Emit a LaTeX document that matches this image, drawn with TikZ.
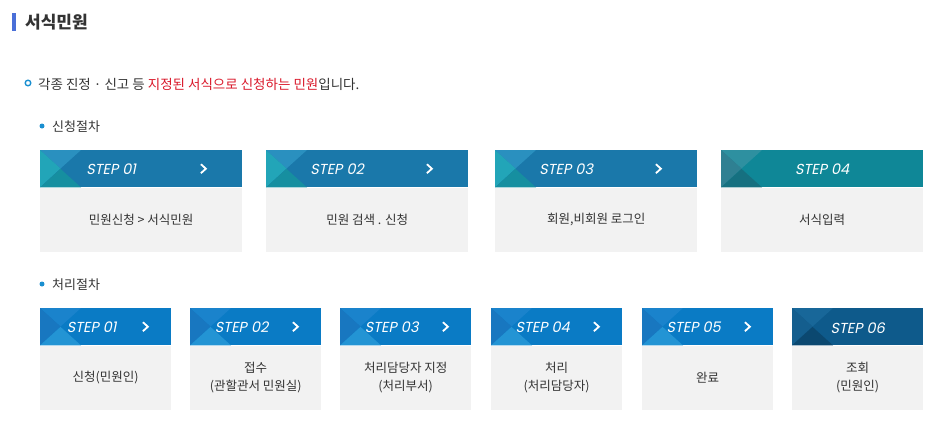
\documentclass[tikz,border=0pt]{standalone}
\usepackage{fontspec}
\setmainfont{Noto Sans CJK KR}
\newfontfamily\stepfont[FakeSlant=0.2]{Poppins}
\usetikzlibrary{positioning}

\definecolor{txtgray}{HTML}{333333}
\definecolor{redtxt}{HTML}{D9182A}
\definecolor{bullet}{HTML}{1A8FD0}
\definecolor{titlebar}{HTML}{4A6FD8}
\definecolor{bodyfill}{HTML}{F2F2F2}
% row 1 headers
\definecolor{aM}{HTML}{1A78AA}
\definecolor{aT}{HTML}{2A90BF}
\definecolor{aL}{HTML}{22A5B8}
\definecolor{aB}{HTML}{168FA0}
\definecolor{bM}{HTML}{0F8797}
\definecolor{bT}{HTML}{2E90A0}
\definecolor{bL}{HTML}{2F8092}
\definecolor{bB}{HTML}{167080}
% row 2 headers
\definecolor{cM}{HTML}{0A7BC5}
\definecolor{cT}{HTML}{1A83CC}
\definecolor{cL}{HTML}{1877C0}
\definecolor{cB}{HTML}{2394D4}
\definecolor{dM}{HTML}{0E5A8B}
\definecolor{dT}{HTML}{186799}
\definecolor{dL}{HTML}{145E8E}
\definecolor{dB}{HTML}{0B4870}

% name, x, y, width, colours, label, body, label shift, chevron offset
\newcommand{\stepcard}[9]{%
	\node [head, fill=#5M, minimum width=#4pt, anchor=north west] (#1h) at (#2,#3) {};
	\fill [#5T] (#1h.north west) -- ++(41,0) -- ++(-20.5,18.5) -- cycle;
	\fill [#5L] (#1h.north west) -- ++(20.5,18.5) -- (#1h.south west) -- cycle;
	\fill [#5B] (#1h.south west) -- ++(41,0) -- ++(-20.5,-18.5) -- cycle;
	\node [steplbl] (#1s) at ([xshift=#8pt, yshift=-1pt]#1h.center) {#6};
	\node [card, minimum width=#4pt, below=0pt of #1h] (#1b) {#7};
	\if\relax\detokenize{#9}\relax\else
	\draw [chev] ([xshift=-#9pt]#1h.east) ++(-2.5,-4.5) -- ++(5,4.5) -- ++(-5,4.5);
	\fi
}

\begin{document}
\begin{tikzpicture}[
	x=1pt, y=-1pt,
	head/.style={rectangle, inner sep=0pt, minimum height=37pt},
	card/.style={rectangle, fill=bodyfill, inner sep=0pt, minimum height=64pt,
		text=txtgray, align=center, font=\fontsize{12.5}{18}\selectfont},
	steplbl/.style={text=white, inner sep=0pt, font=\stepfont\fontsize{14.5}{17}\selectfont},
	chev/.style={draw=white, line width=1.8pt},
	heading/.style={anchor=west, inner sep=0pt, text=txtgray},
	]
	\useasboundingbox (0,0) rectangle (936,423);
	
	% title
	\fill [titlebar] (12,13) rectangle (16,31);
	\node [heading, font=\fontsize{17}{20}\selectfont\bfseries] (title) at (25,22) {서식민원};
	
	% intro line
	\draw [bullet, line width=1.4pt] (28,83) circle (2.8);
	\node [heading, font=\fontsize{13.5}{16}\selectfont] (intro) at (38,84)
		{각종 진정 · 신고 등 \textcolor{redtxt}{지정된 서식으로 신청하는 민원}입니다.};
	
	% application steps
	\fill [bullet] (42,126) circle (2.5);
	\node [heading, font=\fontsize{13}{16}\selectfont] (apply) at (52,127) {신청절차};
	\stepcard{a1}{40}{150}{202}{a}{STEP 01}{민원신청 > 서식민원}{-30}{39}
	\stepcard{a2}{266}{150}{202}{a}{STEP 02}{민원 검색 . 신청}{-30}{39}
	\stepcard{a3}{495}{150}{202}{a}{STEP 03}{회원,비회원 로그인}{-30}{39}
	\stepcard{a4}{721}{150}{202}{b}{STEP 04}{서식입력}{0}{}
	
	% processing steps
	\fill [bullet] (42,284) circle (2.5);
	\node [heading, font=\fontsize{13}{16}\selectfont] (proc) at (52,285) {처리절차};
	\stepcard{p1}{40}{308}{131}{c}{STEP 01}{신청(민원인)}{-14}{26}
	\stepcard{p2}{190}{308}{131}{c}{STEP 02}{접수\\(관할관서 민원실)}{-14}{26}
	\stepcard{p3}{340}{308}{131}{c}{STEP 03}{처리담당자 지정\\(처리부서)}{-14}{26}
	\stepcard{p4}{491}{308}{131}{c}{STEP 04}{처리\\(처리담당자)}{-14}{26}
	\stepcard{p5}{642}{308}{131}{c}{STEP 05}{완료}{-14}{26}
	\stepcard{p6}{792}{308}{131}{d}{STEP 06}{조회\\(민원인)}{0}{}
\end{tikzpicture}
\end{document}
